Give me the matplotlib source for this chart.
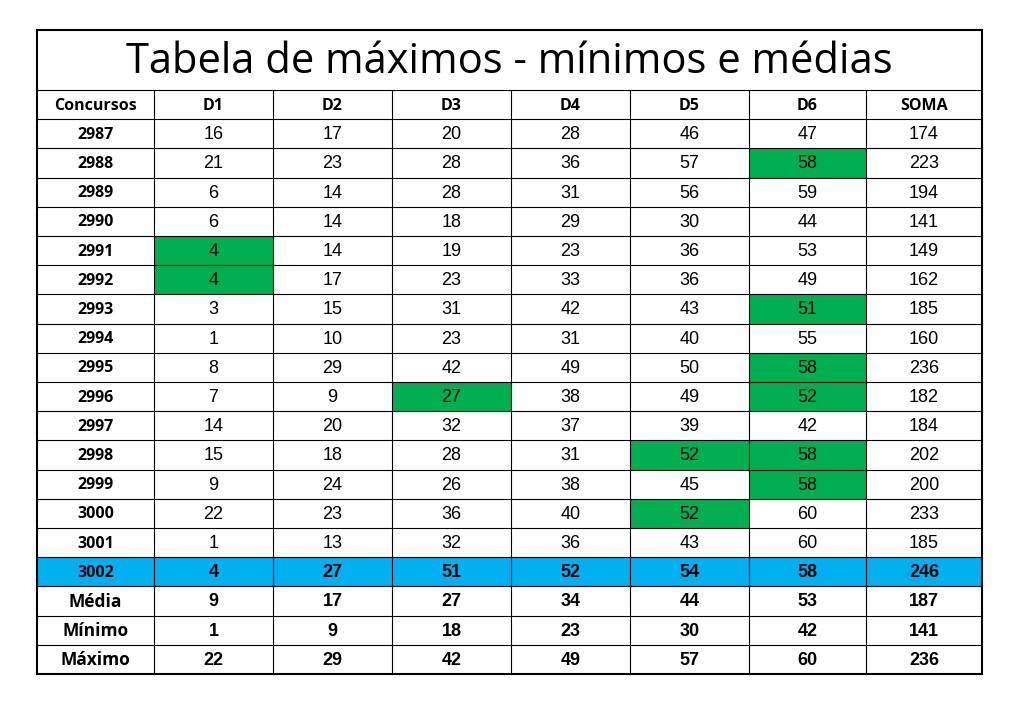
import matplotlib
matplotlib.use("Agg")
import matplotlib.pyplot as plt
from matplotlib.patches import Rectangle

title = "Tabela de máximos - mínimos e médias"
headers = ["Concursos", "D1", "D2", "D3", "D4", "D5", "D6", "SOMA"]
concursos = ["2987","2988","2989","2990","2991","2992","2993","2994","2995","2996",
             "2997","2998","2999","3000","3001","3002"]
d1 = [16,21,6,6,4,4,3,1,8,7,14,15,9,22,1,4]
d2 = [17,23,14,14,14,17,15,10,29,9,20,18,24,23,13,27]
d3 = [20,28,28,18,19,23,31,23,42,27,32,28,26,36,32,51]
d4 = [28,36,31,29,23,33,42,31,49,38,37,31,38,40,36,52]
d5 = [46,57,56,30,36,36,43,40,50,49,39,52,45,52,43,54]
d6 = [47,58,59,44,53,49,51,55,58,52,42,58,58,60,60,58]
soma = [174,223,194,141,149,162,185,160,236,182,184,202,200,233,185,246]
summary_labels = ["Média", "Mínimo", "Máximo"]
summary_vals = [[9,17,27,34,44,53,187],[1,9,18,23,30,42,141],[22,29,42,49,57,60,236]]
# highlighted cells: (row index, column index among D1..SOMA)
green_cells = [(4,0),(5,0),(9,2),(11,4),(13,4),(1,5),(6,5),(8,5),(9,5),(11,5),(12,5)]
blue_row = 15

GREEN = "#00B050"; BLUE = "#00B0F0"
col_edges = [37,154,273,392,511,630,749,866,982]
top, title_bot, bottom = 30, 90, 674
nrows = 1 + len(concursos) + len(summary_labels)
rh = (bottom - title_bot) / nrows

fig = plt.figure(figsize=(10.17, 7.04), dpi=100)
ax = fig.add_axes([0, 0, 1, 1])
ax.set_xlim(0, 1017); ax.set_ylim(704, 0); ax.axis("off")

def ytop(r): return title_bot + r * rh

# fills
data_cols = [d1,d2,d3,d4,d5,d6,soma]
r0 = 1
ax.add_patch(Rectangle((col_edges[0], ytop(r0+blue_row)), col_edges[-1]-col_edges[0], rh, color=BLUE, lw=0))
for (r, c) in green_cells:
    ax.add_patch(Rectangle((col_edges[c+1], ytop(r0+r)), col_edges[c+2]-col_edges[c+1], rh, color=GREEN, lw=0))

# grid lines
lw = 0.8
ax.plot([col_edges[0], col_edges[-1]], [top, top], color="black", lw=1.5)
ax.plot([col_edges[0], col_edges[-1]], [bottom, bottom], color="black", lw=1.5)
ax.plot([col_edges[0]]*2, [top, bottom], color="black", lw=1.5)
ax.plot([col_edges[-1]]*2, [top, bottom], color="black", lw=1.5)
for r in range(nrows):
    y = ytop(r)
    ax.plot([col_edges[0], col_edges[-1]], [y, y], color="black", lw=lw)
for x in col_edges[1:-1]:
    ax.plot([x, x], [title_bot, bottom], color="black", lw=lw)

ax.text((col_edges[0]+col_edges[-1])/2, (top+title_bot)/2+2, title, ha="center", va="center",
        fontsize=30, family="Open Sans")

def cx(c): return (col_edges[c]+col_edges[c+1])/2
def cy(r): return ytop(r) + rh/2 + 1

for c, h in enumerate(headers):
    ax.text(cx(c), cy(0), h, ha="center", va="center", fontsize=11.5, fontweight="bold", family="Open Sans")
for i, k in enumerate(concursos):
    r = r0 + i
    bold = (i == blue_row)
    ax.text(cx(0), cy(r), k, ha="center", va="center", fontsize=11.5, fontweight="bold", family="Open Sans")
    for c, col in enumerate(data_cols):
        ax.text(cx(c+1), cy(r), str(col[i]), ha="center", va="center", fontsize=13,
                fontweight="bold" if bold else "normal", family="Liberation Sans")
for j, lab in enumerate(summary_labels):
    r = r0 + len(concursos) + j
    ax.text(cx(0), cy(r), lab, ha="center", va="center", fontsize=12.5, fontweight="bold", family="Open Sans")
    for c, v in enumerate(summary_vals[j]):
        ax.text(cx(c+1), cy(r), str(v), ha="center", va="center", fontsize=13, fontweight="bold", family="Liberation Sans")

fig.savefig("out.png", dpi=100, facecolor="white")
